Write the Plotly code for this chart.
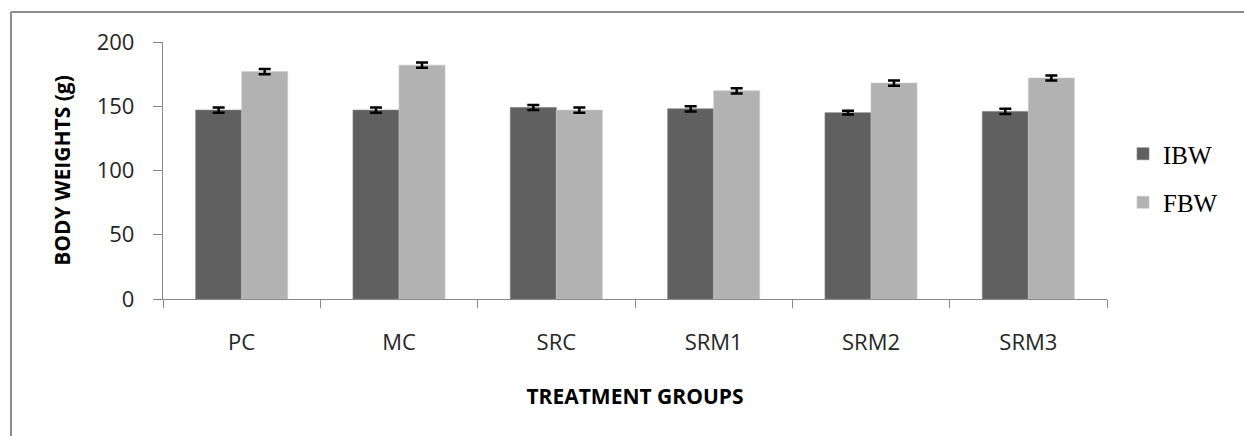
import plotly.graph_objects as go

# Body weights per treatment group (g), mean with error
groups = ["PC", "MC", "SRC", "SRM1", "SRM2", "SRM3"]
ibw = [147, 147, 149, 148, 145, 146]
fbw = [177, 182, 147, 162, 168, 172]
ibw_err = [2, 2, 2, 2, 1.5, 2]
fbw_err = [2, 2, 2, 2, 2, 2]

W, H = 1244, 436
ML, MR, MT, MB = 163, 137, 42, 137
plot_w = W - ML - MR
plot_h = H - MT - MB

err_style = dict(type="data", color="black", thickness=2.5, width=6)

fig = go.Figure()
fig.add_trace(go.Bar(
    x=groups, y=ibw, name="IBW", legendgroup="ibw",
    marker=dict(color="#606060", line=dict(color="#7a7a7a", width=0.6)),
    error_y=dict(array=ibw_err, **err_style),
))
fig.add_trace(go.Bar(
    x=groups, y=fbw, name="FBW", legendgroup="fbw",
    marker=dict(color="#b2b2b2", line=dict(color="#c8c8c8", width=0.6)),
    error_y=dict(array=fbw_err, **err_style),
))

# outer chart frame (top and left edges visible)
fx = (11 - ML) / plot_w
fy = 1 + (MT - 12) / plot_h
frame = dict(color="#8c8c8c", width=2)
fig.add_shape(type="line", xref="paper", yref="paper",
              x0=fx, x1=fx, y0=-1.0, y1=fy, line=frame)
fig.add_shape(type="line", xref="paper", yref="paper",
              x0=fx, x1=1.3, y0=fy, y1=fy, line=frame)

fig.update_layout(
    width=W, height=H,
    margin=dict(l=ML, r=MR, t=MT, b=MB, autoexpand=False),
    paper_bgcolor="white", plot_bgcolor="white",
    barmode="group", bargap=0.415, bargroupgap=0,
    font=dict(family="Open Sans", size=22, color="#262626"),
    showlegend=True,
    legend=dict(
        x=1 + (1123 - ML - plot_w) / plot_w, xanchor="left",
        y=0.5 + (178 - (MT + plot_h / 2)) / -plot_h, yanchor="middle",
        font=dict(family="Liberation Serif", size=25, color="black"),
        tracegroupgap=13, itemwidth=30,
        bgcolor="rgba(0,0,0,0)",
    ),
    xaxis=dict(
        showline=True, linecolor="#888888", linewidth=1.3,
        ticks="outside", tickson="boundaries", ticklen=8,
        tickcolor="#888888", tickwidth=1.3,
        ticklabelstandoff=23,
        showgrid=False, zeroline=False,
        title=dict(text="<b>TREATMENT GROUPS</b>", standoff=34,
                   font=dict(family="Open Sans", size=21, color="black")),
        automargin=False,
    ),
    yaxis=dict(
        range=[0, 200], dtick=50,
        showline=True, linecolor="#888888", linewidth=1.3,
        ticks="outside", ticklen=9, tickcolor="#888888", tickwidth=1.3,
        ticklabelstandoff=14,
        showgrid=False, zeroline=False,
        title=dict(text="<b>BODY WEIGHTS (g)</b>", standoff=20,
                   font=dict(family="Open Sans", size=21, color="black")),
        automargin=False,
    ),
)

fig.write_html("out.html")
